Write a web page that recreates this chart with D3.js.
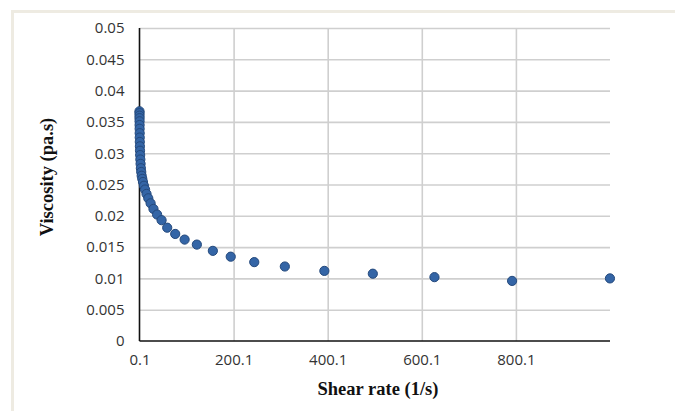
<!DOCTYPE html>
<html>
<head>
<meta charset="utf-8">
<script src="https://cdn.jsdelivr.net/npm/d3@7"></script>
<style>
  html, body { margin: 0; padding: 0; background: #ffffff; }
  svg { display: block; }
  .tick-label { font-family: 'Open Sans', 'DejaVu Sans', sans-serif; font-size: 15px; fill: #333333; }
  .axis-title { font-family: 'Liberation Serif', 'Times New Roman', serif; font-weight: bold; font-size: 18.5px; fill: #111111; }
</style>
</head>
<body>
<svg id="chart" width="675" height="411"></svg>
<script>
// Shear rate sweep (1/s) and measured viscosity (Pa.s)
const shearRate = [
  0.1, 0.12, 0.15, 0.19, 0.24, 0.3, 0.38, 0.48, 0.6, 0.75,
  0.95, 1.2, 1.5, 1.9, 2.4, 3, 3.8, 4.7, 6, 7.5,
  9.5, 11.9, 15, 18.8, 23.7, 29.8, 37.5, 47, 59, 76,
  96, 122, 156, 194, 244, 309, 393, 496, 627, 792, 1000
];
const viscosity = [
  0.0367, 0.0364, 0.0360, 0.0356, 0.0351, 0.0345, 0.0339, 0.0332, 0.0325, 0.0318,
  0.0311, 0.0304, 0.0297, 0.0290, 0.0283, 0.0276, 0.0270, 0.0264, 0.0259, 0.0254,
  0.0248, 0.0242, 0.0235, 0.0228, 0.0220, 0.0211, 0.0202, 0.0193, 0.0181, 0.0171,
  0.0162, 0.0154, 0.0144, 0.01347, 0.0126, 0.0119, 0.0112, 0.01075, 0.0102, 0.0096, 0.0100
];
const xTicks = [0.1, 200.1, 400.1, 600.1, 800.1];
const yTicks = [0, 0.005, 0.01, 0.015, 0.02, 0.025, 0.03, 0.035, 0.04, 0.045, 0.05];

const svg = d3.select("#chart");
const W = 675, H = 411;

// outer frame strips
svg.append("rect").attr("x", 0).attr("y", 0).attr("width", W).attr("height", H).attr("fill", "#ffffff");
svg.append("rect").attr("x", 11).attr("y", 10).attr("width", W - 11).attr("height", 3).attr("fill", "#eeebe2");
svg.append("rect").attr("x", 11).attr("y", 10).attr("width", 3).attr("height", H - 10).attr("fill", "#eeebe2");

const plot = { left: 139.5, right: 610, top: 28, bottom: 341 };

const x = d3.scaleLinear().domain([0.1, 1000.1]).range([plot.left, plot.right]);
const y = d3.scaleLinear().domain([0, 0.05]).range([plot.bottom, plot.top]);

const gridColor = "#cfcfcf";

// horizontal gridlines
svg.append("g")
  .attr("transform", `translate(${plot.left},0)`)
  .call(d3.axisLeft(y).tickValues(yTicks.filter(d => d > 0))
    .tickSize(-(plot.right - plot.left)).tickFormat(""))
  .call(g => g.select(".domain").remove())
  .call(g => g.selectAll("line").attr("stroke", gridColor).attr("stroke-width", 1.6));

// vertical gridlines
svg.append("g")
  .attr("transform", `translate(0,${plot.bottom})`)
  .call(d3.axisBottom(x).tickValues(xTicks.filter(d => d > 0.1))
    .tickSize(-(plot.bottom - plot.top)).tickFormat(""))
  .call(g => g.select(".domain").remove())
  .call(g => g.selectAll("line").attr("stroke", gridColor).attr("stroke-width", 1.6));

// y axis labels
const yAxis = svg.append("g")
  .attr("transform", `translate(${plot.left},0)`)
  .call(d3.axisLeft(y).tickValues(yTicks).tickSize(0).tickPadding(15)
    .tickFormat(d => d === 0 ? "0" : String(+d.toFixed(3))));
yAxis.attr("font-size", null).attr("font-family", null);
yAxis.select(".domain").remove();
yAxis.selectAll("text").attr("class", "tick-label").attr("fill", null);

// x axis labels
const xAxis = svg.append("g")
  .attr("transform", `translate(0,${plot.bottom})`)
  .call(d3.axisBottom(x).tickValues(xTicks).tickSize(0).tickPadding(13)
    .tickFormat(d => d.toFixed(1)));
xAxis.attr("font-size", null).attr("font-family", null);
xAxis.select(".domain").remove();
xAxis.selectAll("text").attr("class", "tick-label").attr("fill", null);

// axis lines
svg.append("line")
  .attr("x1", plot.left).attr("x2", plot.left)
  .attr("y1", plot.top).attr("y2", plot.bottom)
  .attr("stroke", "#111").attr("stroke-width", 1.6);
svg.append("line")
  .attr("x1", plot.left).attr("x2", plot.right)
  .attr("y1", plot.bottom).attr("y2", plot.bottom)
  .attr("stroke", "#111").attr("stroke-width", 1.6);

// data markers
const data = shearRate.map((s, i) => ({ s, v: viscosity[i] }));
svg.append("g").selectAll("circle")
  .data(data)
  .join("circle")
  .attr("cx", d => x(d.s))
  .attr("cy", d => y(d.v))
  .attr("r", 4.6)
  .attr("fill", "#3465a6")
  .attr("stroke", "#24497c")
  .attr("stroke-width", 1);

// axis titles
svg.append("text")
  .attr("class", "axis-title")
  .attr("x", 378)
  .attr("y", 395)
  .attr("text-anchor", "middle")
  .text("Shear rate (1/s)");
svg.append("text")
  .attr("class", "axis-title")
  .attr("transform", "translate(53,177) rotate(-90)")
  .attr("text-anchor", "middle")
  .text("Viscosity (pa.s)");
</script>
</body>
</html>
